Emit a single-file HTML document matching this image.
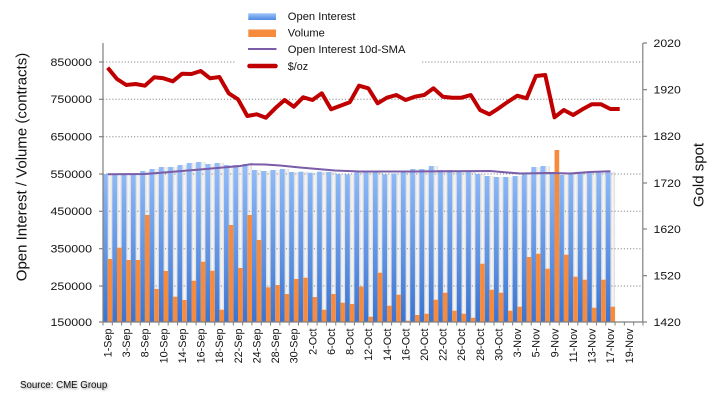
<!DOCTYPE html>
<html>
<head>
<meta charset="utf-8">
<style>
html,body{margin:0;padding:0;background:#fff;}
body{width:719px;height:406px;overflow:hidden;position:relative;font-family:"Liberation Sans",Arial,sans-serif;}
svg{position:absolute;left:0;top:0;}
.src{position:absolute;left:20px;top:380px;font-size:9.7px;color:#111;text-shadow:1px 1px 2px #888;white-space:nowrap;}
</style>
</head>
<body>
<svg width="719" height="406" viewBox="0 0 719 406" xmlns="http://www.w3.org/2000/svg" font-family="'Liberation Sans', Arial, sans-serif">
<defs>
<linearGradient id="bl" gradientUnits="userSpaceOnUse" x1="0" y1="165" x2="0" y2="322">
<stop offset="0" stop-color="#93bdf9"/>
<stop offset="1" stop-color="#3a74d2"/>
</linearGradient>
<linearGradient id="st" x1="0" y1="0" x2="1" y2="0">
<stop offset="0" stop-color="#d6d6d6"/>
<stop offset="0.5" stop-color="#f8f8f8"/>
<stop offset="1" stop-color="#dcdcdc"/>
</linearGradient>
<linearGradient id="lgb" x1="0" y1="0" x2="0" y2="1">
<stop offset="0" stop-color="#9fc4fa"/>
<stop offset="1" stop-color="#4f88e2"/>
</linearGradient>
</defs>

<!-- stripes (bar shadows) -->
<g fill="url(#st)">
<rect x="107.66" y="174" width="4.66" height="85"/>
<rect x="116.97" y="175" width="4.66" height="72.7"/>
<rect x="126.28" y="175" width="4.66" height="85"/>
<rect x="135.59" y="175" width="4.66" height="85"/>
<rect x="144.9" y="171" width="4.66" height="44"/>
<rect x="154.21" y="169" width="4.66" height="120"/>
<rect x="163.52" y="167" width="4.66" height="104"/>
<rect x="172.83" y="167" width="4.66" height="129.7"/>
<rect x="182.14" y="165" width="4.66" height="135"/>
<rect x="191.45" y="163" width="4.66" height="117.7"/>
<rect x="200.76" y="162" width="4.66" height="99.7"/>
<rect x="210.07" y="164" width="4.66" height="106.7"/>
<rect x="219.38" y="163" width="4.66" height="146.7"/>
<rect x="228.69" y="165" width="4.66" height="60"/>
<rect x="238" y="165" width="4.66" height="103"/>
<rect x="247.31" y="164" width="4.66" height="51"/>
<rect x="256.62" y="170" width="4.66" height="70"/>
<rect x="265.93" y="171" width="4.66" height="116.3"/>
<rect x="275.24" y="170" width="4.66" height="115"/>
<rect x="284.55" y="169" width="4.66" height="125"/>
<rect x="293.86" y="172" width="4.66" height="107"/>
<rect x="303.17" y="171.7" width="4.66" height="106"/>
<rect x="312.48" y="172.7" width="4.66" height="124.3"/>
<rect x="321.79" y="171.7" width="4.66" height="138"/>
<rect x="331.1" y="172" width="4.66" height="122"/>
<rect x="340.41" y="174" width="4.66" height="128.7"/>
<rect x="349.72" y="174.3" width="4.66" height="129.7"/>
<rect x="359.03" y="172.3" width="4.66" height="114.4"/>
<rect x="368.34" y="172.3" width="4.66" height="144.4"/>
<rect x="377.65" y="172.3" width="4.66" height="100.4"/>
<rect x="386.96" y="174.3" width="4.66" height="131.4"/>
<rect x="396.27" y="173.5" width="4.66" height="121.2"/>
<rect x="405.58" y="171" width="4.66" height="149.7"/>
<rect x="414.89" y="169" width="4.66" height="146"/>
<rect x="424.2" y="169" width="4.66" height="144.7"/>
<rect x="433.51" y="166" width="4.66" height="133.7"/>
<rect x="442.82" y="170" width="4.66" height="122.7"/>
<rect x="452.13" y="170" width="4.66" height="140.7"/>
<rect x="461.44" y="171.7" width="4.66" height="142"/>
<rect x="470.75" y="171.7" width="4.66" height="146"/>
<rect x="480.06" y="174" width="4.66" height="89.7"/>
<rect x="489.37" y="176" width="4.66" height="113.7"/>
<rect x="498.68" y="177" width="4.66" height="115.7"/>
<rect x="507.99" y="177" width="4.66" height="133.7"/>
<rect x="517.3" y="176" width="4.66" height="130.7"/>
<rect x="526.61" y="174" width="4.66" height="83"/>
<rect x="535.92" y="167" width="4.66" height="86.7"/>
<rect x="545.23" y="166" width="4.66" height="102.7"/>
<rect x="563.85" y="175" width="4.66" height="79.7"/>
<rect x="573.16" y="174" width="4.66" height="102.7"/>
<rect x="582.47" y="173" width="4.66" height="106.7"/>
<rect x="591.78" y="173" width="4.66" height="134.7"/>
<rect x="601.09" y="171.7" width="4.66" height="108"/>
<rect x="610.4" y="171.7" width="4.66" height="135"/>
</g>

<!-- gridlines -->
<g stroke="#8a8a8a" stroke-width="1" stroke-dasharray="1.2 1.9" fill="none">
<line x1="103" y1="62" x2="235" y2="62"/>
<line x1="422" y1="62" x2="643" y2="62"/>
<line x1="103" y1="99.3" x2="643" y2="99.3"/>
<line x1="103" y1="136.7" x2="643" y2="136.7"/>
<line x1="103" y1="174" x2="643" y2="174"/>
<line x1="103" y1="211.3" x2="643" y2="211.3"/>
<line x1="103" y1="248.7" x2="643" y2="248.7"/>
<line x1="103" y1="286" x2="643" y2="286"/>
</g>

<!-- open interest bars -->
<g fill="url(#bl)">
<rect x="103" y="174" width="4.7" height="148"/>
<rect x="112.31" y="175" width="4.7" height="147"/>
<rect x="121.62" y="175" width="4.7" height="147"/>
<rect x="130.93" y="175" width="4.7" height="147"/>
<rect x="140.24" y="171" width="4.7" height="151"/>
<rect x="149.55" y="169" width="4.7" height="153"/>
<rect x="158.86" y="167" width="4.7" height="155"/>
<rect x="168.17" y="167" width="4.7" height="155"/>
<rect x="177.48" y="165" width="4.7" height="157"/>
<rect x="186.79" y="163" width="4.7" height="159"/>
<rect x="196.1" y="162" width="4.7" height="160"/>
<rect x="205.41" y="164" width="4.7" height="158"/>
<rect x="214.72" y="163" width="4.7" height="159"/>
<rect x="224.03" y="165" width="4.7" height="157"/>
<rect x="233.34" y="165" width="4.7" height="157"/>
<rect x="242.65" y="164" width="4.7" height="158"/>
<rect x="251.96" y="170" width="4.7" height="152"/>
<rect x="261.27" y="171" width="4.7" height="151"/>
<rect x="270.58" y="170" width="4.7" height="152"/>
<rect x="279.89" y="169" width="4.7" height="153"/>
<rect x="289.2" y="172" width="4.7" height="150"/>
<rect x="298.51" y="171.7" width="4.7" height="150.3"/>
<rect x="307.82" y="172.7" width="4.7" height="149.3"/>
<rect x="317.13" y="171.7" width="4.7" height="150.3"/>
<rect x="326.44" y="172" width="4.7" height="150"/>
<rect x="335.75" y="174" width="4.7" height="148"/>
<rect x="345.06" y="174.3" width="4.7" height="147.7"/>
<rect x="354.37" y="172.3" width="4.7" height="149.7"/>
<rect x="363.68" y="172.3" width="4.7" height="149.7"/>
<rect x="372.99" y="172.3" width="4.7" height="149.7"/>
<rect x="382.3" y="174.3" width="4.7" height="147.7"/>
<rect x="391.61" y="173.5" width="4.7" height="148.5"/>
<rect x="400.92" y="171" width="4.7" height="151"/>
<rect x="410.23" y="169" width="4.7" height="153"/>
<rect x="419.54" y="169" width="4.7" height="153"/>
<rect x="428.85" y="166" width="4.7" height="156"/>
<rect x="438.16" y="170" width="4.7" height="152"/>
<rect x="447.47" y="170" width="4.7" height="152"/>
<rect x="456.78" y="171.7" width="4.7" height="150.3"/>
<rect x="466.09" y="171.7" width="4.7" height="150.3"/>
<rect x="475.4" y="174" width="4.7" height="148"/>
<rect x="484.71" y="176" width="4.7" height="146"/>
<rect x="494.02" y="177" width="4.7" height="145"/>
<rect x="503.33" y="177" width="4.7" height="145"/>
<rect x="512.64" y="176" width="4.7" height="146"/>
<rect x="521.95" y="174" width="4.7" height="148"/>
<rect x="531.26" y="167" width="4.7" height="155"/>
<rect x="540.57" y="166" width="4.7" height="156"/>
<rect x="549.88" y="172" width="4.7" height="150"/>
<rect x="559.19" y="175" width="4.7" height="147"/>
<rect x="568.5" y="174" width="4.7" height="148"/>
<rect x="577.81" y="173" width="4.7" height="149"/>
<rect x="587.12" y="173" width="4.7" height="149"/>
<rect x="596.43" y="171.7" width="4.7" height="150.3"/>
<rect x="605.74" y="171.7" width="4.7" height="150.3"/>
</g>

<!-- volume bars -->
<g fill="#f68b3d">
<rect x="107.66" y="259" width="4.66" height="63"/>
<rect x="116.97" y="247.7" width="4.66" height="74.3"/>
<rect x="126.28" y="260" width="4.66" height="62"/>
<rect x="135.59" y="260" width="4.66" height="62"/>
<rect x="144.9" y="215" width="4.66" height="107"/>
<rect x="154.21" y="289" width="4.66" height="33"/>
<rect x="163.52" y="271" width="4.66" height="51"/>
<rect x="172.83" y="296.7" width="4.66" height="25.3"/>
<rect x="182.14" y="300" width="4.66" height="22"/>
<rect x="191.45" y="280.7" width="4.66" height="41.3"/>
<rect x="200.76" y="261.7" width="4.66" height="60.3"/>
<rect x="210.07" y="270.7" width="4.66" height="51.3"/>
<rect x="219.38" y="309.7" width="4.66" height="12.3"/>
<rect x="228.69" y="225" width="4.66" height="97"/>
<rect x="238" y="268" width="4.66" height="54"/>
<rect x="247.31" y="215" width="4.66" height="107"/>
<rect x="256.62" y="240" width="4.66" height="82"/>
<rect x="265.93" y="287.3" width="4.66" height="34.7"/>
<rect x="275.24" y="285" width="4.66" height="37"/>
<rect x="284.55" y="294" width="4.66" height="28"/>
<rect x="293.86" y="279" width="4.66" height="43"/>
<rect x="303.17" y="277.7" width="4.66" height="44.3"/>
<rect x="312.48" y="297" width="4.66" height="25"/>
<rect x="321.79" y="309.7" width="4.66" height="12.3"/>
<rect x="331.1" y="294" width="4.66" height="28"/>
<rect x="340.41" y="302.7" width="4.66" height="19.3"/>
<rect x="349.72" y="304" width="4.66" height="18"/>
<rect x="359.03" y="286.7" width="4.66" height="35.3"/>
<rect x="368.34" y="316.7" width="4.66" height="5.3"/>
<rect x="377.65" y="272.7" width="4.66" height="49.3"/>
<rect x="386.96" y="305.7" width="4.66" height="16.3"/>
<rect x="396.27" y="294.7" width="4.66" height="27.3"/>
<rect x="405.58" y="320.7" width="4.66" height="1.3"/>
<rect x="414.89" y="315" width="4.66" height="7"/>
<rect x="424.2" y="313.7" width="4.66" height="8.3"/>
<rect x="433.51" y="299.7" width="4.66" height="22.3"/>
<rect x="442.82" y="292.7" width="4.66" height="29.3"/>
<rect x="452.13" y="310.7" width="4.66" height="11.3"/>
<rect x="461.44" y="313.7" width="4.66" height="8.3"/>
<rect x="470.75" y="317.7" width="4.66" height="4.3"/>
<rect x="480.06" y="263.7" width="4.66" height="58.3"/>
<rect x="489.37" y="289.7" width="4.66" height="32.3"/>
<rect x="498.68" y="292.7" width="4.66" height="29.3"/>
<rect x="507.99" y="310.7" width="4.66" height="11.3"/>
<rect x="517.3" y="306.7" width="4.66" height="15.3"/>
<rect x="526.61" y="257" width="4.66" height="65"/>
<rect x="535.92" y="253.7" width="4.66" height="68.3"/>
<rect x="545.23" y="268.7" width="4.66" height="53.3"/>
<rect x="554.54" y="150" width="4.66" height="172"/>
<rect x="563.85" y="254.7" width="4.66" height="67.3"/>
<rect x="573.16" y="276.7" width="4.66" height="45.3"/>
<rect x="582.47" y="279.7" width="4.66" height="42.3"/>
<rect x="591.78" y="307.7" width="4.66" height="14.3"/>
<rect x="601.09" y="279.7" width="4.66" height="42.3"/>
<rect x="610.4" y="306.7" width="4.66" height="15.3"/>
</g>

<!-- SMA line -->
<polyline fill="none" stroke="#7a5ca8" stroke-width="2" stroke-linejoin="round" points="107.7,174.3 145,174 170,172 200,169.5 240,166 250,164.3 265,164.5 280,165.5 300,167.5 335,170.5 360,171.5 410,171.5 490,171 520,173.5 550,173 570,173.5 590,172 610.4,171.2"/>

<!-- Gold line -->
<polyline fill="none" stroke="#c00000" stroke-width="4" stroke-linejoin="round" stroke-linecap="butt" points="107.66,67.7 116.97,79 126.28,85 135.59,84 144.9,85.7 154.21,77.3 163.52,78.3 172.83,81.3 182.14,73.7 191.45,74 200.76,71 210.07,78.3 219.38,77 228.69,93.3 238,99.3 247.31,116 256.62,114.3 265.93,117.7 275.24,108.3 284.55,100 293.86,106.7 303.17,97.3 312.48,100 321.79,93.3 331.1,109.3 340.41,105.7 349.72,102.3 359.03,85.7 368.34,88.3 377.65,103.3 386.96,97.7 396.27,95 405.58,100 414.89,96.7 424.2,95 433.51,88.3 442.82,96.7 452.13,97.7 461.44,97.7 470.75,95 480.06,110 489.37,114.3 498.68,108.3 507.99,101.7 517.3,95.7 526.61,98.3 535.92,76 545.23,75 554.54,117.3 563.85,110 573.16,115 582.47,109.3 591.78,104.3 601.09,104.3 610.4,109 619.71,109"/>

<!-- axes -->
<g stroke="#808080" stroke-width="1.2" fill="none">
<line x1="103" y1="43" x2="103" y2="322.5"/>
<line x1="642.8" y1="43" x2="642.8" y2="322.5"/>
<line x1="103" y1="322" x2="643" y2="322"/>
<!-- left ticks -->
<line x1="99" y1="62" x2="103" y2="62"/>
<line x1="99" y1="99.3" x2="103" y2="99.3"/>
<line x1="99" y1="136.7" x2="103" y2="136.7"/>
<line x1="99" y1="174" x2="103" y2="174"/>
<line x1="99" y1="211.3" x2="103" y2="211.3"/>
<line x1="99" y1="248.7" x2="103" y2="248.7"/>
<line x1="99" y1="286" x2="103" y2="286"/>
<line x1="99" y1="322" x2="103" y2="322"/>
<!-- right ticks -->
<line x1="643" y1="43" x2="647" y2="43"/>
<line x1="643" y1="89.7" x2="647" y2="89.7"/>
<line x1="643" y1="136.3" x2="647" y2="136.3"/>
<line x1="643" y1="183" x2="647" y2="183"/>
<line x1="643" y1="229" x2="647" y2="229"/>
<line x1="643" y1="275.7" x2="647" y2="275.7"/>
<line x1="643" y1="322" x2="647" y2="322"/>
</g>
<!-- x ticks -->
<g stroke="#808080" stroke-width="1">
<path d="M103,322v3.5M112.31,322v3.5M121.62,322v3.5M130.93,322v3.5M140.24,322v3.5M149.55,322v3.5M158.86,322v3.5M168.17,322v3.5M177.48,322v3.5M186.79,322v3.5M196.1,322v3.5M205.41,322v3.5M214.72,322v3.5M224.03,322v3.5M233.34,322v3.5M242.65,322v3.5M251.96,322v3.5M261.27,322v3.5M270.58,322v3.5M279.89,322v3.5M289.2,322v3.5M298.51,322v3.5M307.82,322v3.5M317.13,322v3.5M326.44,322v3.5M335.75,322v3.5M345.06,322v3.5M354.37,322v3.5M363.68,322v3.5M372.99,322v3.5M382.3,322v3.5M391.61,322v3.5M400.92,322v3.5M410.23,322v3.5M419.54,322v3.5M428.85,322v3.5M438.16,322v3.5M447.47,322v3.5M456.78,322v3.5M466.09,322v3.5M475.4,322v3.5M484.71,322v3.5M494.02,322v3.5M503.33,322v3.5M512.64,322v3.5M521.95,322v3.5M531.26,322v3.5M540.57,322v3.5M549.88,322v3.5M559.19,322v3.5M568.5,322v3.5M577.81,322v3.5M587.12,322v3.5M596.43,322v3.5M605.74,322v3.5M615.05,322v3.5M624.36,322v3.5M633.67,322v3.5M642.98,322v3.5"/>
</g>

<!-- left tick labels -->
<g font-size="10.6" fill="#111" text-anchor="end">
<text x="92" y="65.8" textLength="41.5" lengthAdjust="spacingAndGlyphs">850000</text>
<text x="92" y="103.1" textLength="41.5" lengthAdjust="spacingAndGlyphs">750000</text>
<text x="92" y="140.5" textLength="41.5" lengthAdjust="spacingAndGlyphs">650000</text>
<text x="92" y="177.8" textLength="41.5" lengthAdjust="spacingAndGlyphs">550000</text>
<text x="92" y="215.1" textLength="41.5" lengthAdjust="spacingAndGlyphs">450000</text>
<text x="92" y="252.5" textLength="41.5" lengthAdjust="spacingAndGlyphs">350000</text>
<text x="92" y="289.8" textLength="41.5" lengthAdjust="spacingAndGlyphs">250000</text>
<text x="92" y="325.8" textLength="41.5" lengthAdjust="spacingAndGlyphs">150000</text>
</g>
<!-- right tick labels -->
<g font-size="10.6" fill="#111">
<text x="653.5" y="46.8" textLength="27.3" lengthAdjust="spacingAndGlyphs">2020</text>
<text x="653.5" y="93.5" textLength="27.3" lengthAdjust="spacingAndGlyphs">1920</text>
<text x="653.5" y="140.1" textLength="27.3" lengthAdjust="spacingAndGlyphs">1820</text>
<text x="653.5" y="186.8" textLength="27.3" lengthAdjust="spacingAndGlyphs">1720</text>
<text x="653.5" y="232.8" textLength="27.3" lengthAdjust="spacingAndGlyphs">1620</text>
<text x="653.5" y="279.5" textLength="27.3" lengthAdjust="spacingAndGlyphs">1520</text>
<text x="653.5" y="325.8" textLength="27.3" lengthAdjust="spacingAndGlyphs">1420</text>
</g>

<!-- axis titles -->
<text transform="translate(26.5,167) rotate(-90)" text-anchor="middle" font-size="15" fill="#111">Open Interest / Volume (contracts)</text>
<text transform="translate(703.5,175) rotate(-90)" text-anchor="middle" font-size="15" fill="#111">Gold spot</text>

<!-- x labels -->
<g font-size="10.8" fill="#111" text-anchor="end">
<text transform="translate(111.5,328.5) rotate(-90)">1-Sep</text>
<text transform="translate(130.1,328.5) rotate(-90)">3-Sep</text>
<text transform="translate(148.7,328.5) rotate(-90)">8-Sep</text>
<text transform="translate(167.3,328.5) rotate(-90)">10-Sep</text>
<text transform="translate(185.9,328.5) rotate(-90)">14-Sep</text>
<text transform="translate(204.6,328.5) rotate(-90)">16-Sep</text>
<text transform="translate(223.2,328.5) rotate(-90)">18-Sep</text>
<text transform="translate(241.8,328.5) rotate(-90)">22-Sep</text>
<text transform="translate(260.4,328.5) rotate(-90)">24-Sep</text>
<text transform="translate(279,328.5) rotate(-90)">28-Sep</text>
<text transform="translate(297.7,328.5) rotate(-90)">30-Sep</text>
<text transform="translate(316.3,328.5) rotate(-90)">2-Oct</text>
<text transform="translate(334.9,328.5) rotate(-90)">6-Oct</text>
<text transform="translate(353.5,328.5) rotate(-90)">8-Oct</text>
<text transform="translate(372.1,328.5) rotate(-90)">12-Oct</text>
<text transform="translate(390.8,328.5) rotate(-90)">14-Oct</text>
<text transform="translate(409.4,328.5) rotate(-90)">16-Oct</text>
<text transform="translate(428,328.5) rotate(-90)">20-Oct</text>
<text transform="translate(446.6,328.5) rotate(-90)">22-Oct</text>
<text transform="translate(465.2,328.5) rotate(-90)">26-Oct</text>
<text transform="translate(483.9,328.5) rotate(-90)">28-Oct</text>
<text transform="translate(502.5,328.5) rotate(-90)">30-Oct</text>
<text transform="translate(521.1,328.5) rotate(-90)">3-Nov</text>
<text transform="translate(539.7,328.5) rotate(-90)">5-Nov</text>
<text transform="translate(558.3,328.5) rotate(-90)">9-Nov</text>
<text transform="translate(577,328.5) rotate(-90)">11-Nov</text>
<text transform="translate(595.6,328.5) rotate(-90)">13-Nov</text>
<text transform="translate(614.2,328.5) rotate(-90)">17-Nov</text>
<text transform="translate(632.8,328.5) rotate(-90)">19-Nov</text>
</g>

<!-- legend -->
<rect x="248.3" y="13.3" width="27.7" height="6.7" fill="url(#lgb)"/>
<rect x="248.3" y="29.5" width="27.7" height="7.5" fill="#f68b3d"/>
<line x1="248" y1="49" x2="276.5" y2="49" stroke="#7a5ca8" stroke-width="2"/>
<line x1="249.5" y1="66" x2="275.5" y2="66" stroke="#c00000" stroke-width="4.5" stroke-linecap="round"/>
<g font-size="10.6" fill="#111">
<text x="287.8" y="20" textLength="67.7" lengthAdjust="spacingAndGlyphs">Open Interest</text>
<text x="287.8" y="36.5" textLength="37" lengthAdjust="spacingAndGlyphs">Volume</text>
<text x="287.8" y="53.2" textLength="117.7" lengthAdjust="spacingAndGlyphs">Open Interest 10d-SMA</text>
<text x="287.8" y="69.8" textLength="20.3" lengthAdjust="spacingAndGlyphs">$/oz</text>
</g>
</svg>
<div class="src">Source: CME Group</div>
</body>
</html>
